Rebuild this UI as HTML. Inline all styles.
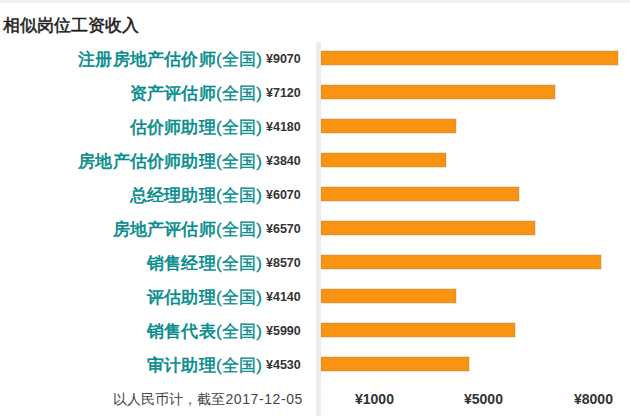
<!DOCTYPE html>
<html><head><meta charset="utf-8"><style>
html,body{margin:0;padding:0;background:#fff;width:630px;height:419px;overflow:hidden;position:relative;font-family:"Liberation Sans",sans-serif;}
.top{position:absolute;left:0;top:0;width:630px;height:3px;background:#efefef;}
.title{position:absolute;left:3px;top:14px;font-size:17px;font-weight:normal;color:#1e1e1e;-webkit-text-stroke:0.55px #1e1e1e;line-height:24px;white-space:nowrap;}
.vline{position:absolute;left:316px;top:42px;width:5px;height:374px;background:#ececec;}
.lab{position:absolute;right:368px;font-size:17px;font-weight:normal;color:#038b8b;line-height:26px;white-space:nowrap;}
.lab{letter-spacing:0.2px;-webkit-text-stroke:0.6px #038b8b;}
.lab .p{font-weight:normal;-webkit-text-stroke:0.3px #038b8b;}
.val{position:absolute;left:266px;font-size:12.5px;font-weight:bold;color:#333;line-height:16px;white-space:nowrap;}
.bar{position:absolute;left:321px;height:14px;background:#f99412;box-shadow:0 0 0 1px #e4e9f0, inset 0 0 0 1px #f58d08;}
.foot{position:absolute;right:327px;top:388px;font-size:14px;color:#444;line-height:22px;white-space:nowrap;}
.foot .d{letter-spacing:0.6px;}
.ax{position:absolute;top:391px;font-size:14px;font-weight:bold;color:#333;line-height:16px;white-space:nowrap;}
</style></head><body>
<div class="top"></div>
<div class="title">相似岗位工资收入</div>
<div class="vline"></div>
<div class="lab" style="top:47px">注册房地产估价师<span class="p">(全国)</span></div>
<div class="val" style="top:51px">¥9070</div>
<div class="bar" style="top:51px;width:297px"></div>
<div class="lab" style="top:81px">资产评估师<span class="p">(全国)</span></div>
<div class="val" style="top:85px">¥7120</div>
<div class="bar" style="top:85px;width:234px"></div>
<div class="lab" style="top:115px">估价师助理<span class="p">(全国)</span></div>
<div class="val" style="top:119px">¥4180</div>
<div class="bar" style="top:119px;width:135px"></div>
<div class="lab" style="top:149px">房地产估价师助理<span class="p">(全国)</span></div>
<div class="val" style="top:153px">¥3840</div>
<div class="bar" style="top:153px;width:125px"></div>
<div class="lab" style="top:183px">总经理助理<span class="p">(全国)</span></div>
<div class="val" style="top:187px">¥6070</div>
<div class="bar" style="top:187px;width:198px"></div>
<div class="lab" style="top:217px">房地产评估师<span class="p">(全国)</span></div>
<div class="val" style="top:221px">¥6570</div>
<div class="bar" style="top:221px;width:214px"></div>
<div class="lab" style="top:251px">销售经理<span class="p">(全国)</span></div>
<div class="val" style="top:255px">¥8570</div>
<div class="bar" style="top:255px;width:280px"></div>
<div class="lab" style="top:285px">评估助理<span class="p">(全国)</span></div>
<div class="val" style="top:289px">¥4140</div>
<div class="bar" style="top:289px;width:135px"></div>
<div class="lab" style="top:319px">销售代表<span class="p">(全国)</span></div>
<div class="val" style="top:323px">¥5990</div>
<div class="bar" style="top:323px;width:194px"></div>
<div class="lab" style="top:353px">审计助理<span class="p">(全国)</span></div>
<div class="val" style="top:357px">¥4530</div>
<div class="bar" style="top:357px;width:148px"></div>
<div class="foot">以人民币计，截至<span class="d">2017-12-05</span></div>
<div class="ax" style="left:355px">¥1000</div>
<div class="ax" style="left:464px">¥5000</div>
<div class="ax" style="left:574px">¥8000</div>
</body></html>
